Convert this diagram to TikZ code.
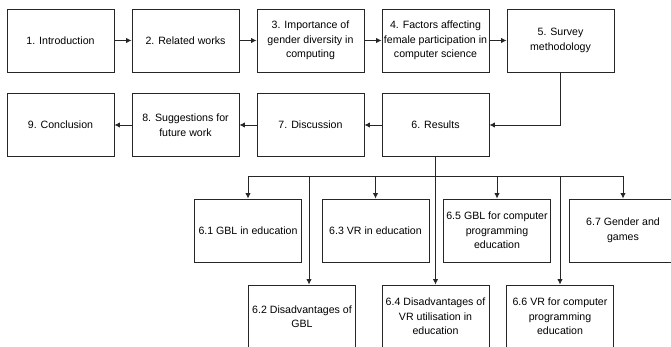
\documentclass[tikz,border=0pt]{standalone}
\usepackage{fontspec}
\setmainfont{Liberation Sans}
\usetikzlibrary{arrows.meta}
\begin{document}
\begin{tikzpicture}[x=1pt,y=-1pt,
  box/.style={draw=black!85,line width=0.9pt,minimum width=107pt,minimum height=63pt,inner sep=1pt,align=center,
    font=\fontsize{10.6}{14.5}\selectfont},
  arr/.style={draw=black!85,line width=0.9pt,-{Latex[length=5.5pt,width=5.5pt]}}]
\useasboundingbox (0,0) rectangle (671,347);
\clip (0,0) rectangle (671,347);
\fill[white] (0,0) rectangle (671,347);
% row 1
\node[box] (n1) at (60.5,40.5) {1. Introduction};
\node[box] (n2) at (185.5,40.5) {2. Related works};
\node[box] (n3) at (310.5,40.5) {3. Importance of\\gender diversity in\\computing};
\node[box] (n4) at (435.5,40.5) {4. Factors affecting\\female participation in\\computer science};
\node[box] (n5) at (560.5,40.5) {5. Survey\\methodology};
% row 2
\node[box] (n9) at (60.5,125) {9. Conclusion};
\node[box] (n8) at (185.5,125) {8. Suggestions for\\future work};
\node[box] (n7) at (310.5,125) {7. Discussion};
\node[box] (n6) at (435.5,125) {6. Results};
% row 3
\node[box] (s1) at (248,230.5) {6.1 GBL in education};
\node[box] (s3) at (375.5,230.5) {6.3 VR in education};
\node[box] (s5) at (497,230.5) {6.5 GBL for computer\\programming\\education};
\node[box] (s7) at (623,230.5) {6.7 Gender and\\games};
% row 4
\node[box] (s2) at (302,316.5) {6.2 Disadvantages of\\GBL};
\node[box] (s4) at (435.5,316.5) {6.4 Disadvantages of\\VR utilisation in\\education};
\node[box] (s6) at (560,316.5) {6.6 VR for computer\\programming\\education};
% connectors
\draw[arr] (n1) -- (n2);
\draw[arr] (n2) -- (n3);
\draw[arr] (n3) -- (n4);
\draw[arr] (n4) -- (n5);
\draw[arr] (n5.south) |- (n6.east);
\draw[arr] (n6) -- (n7);
\draw[arr] (n7) -- (n8);
\draw[arr] (n8) -- (n9);
\coordinate (bus) at (435.5,176);
\draw[arr] (n6.south) -- (bus) -| (s1.north);
\draw[arr] (n6.south) -- (bus) -| ([xshift=7pt]s2.north);
\draw[arr] (n6.south) -- (bus) -| (s3.north);
\draw[arr] (n6.south) -- (s4.north);
\draw[arr] (n6.south) -- (bus) -| (s5.north);
\draw[arr] (n6.south) -- (bus) -| (s6.north);
\draw[arr] (n6.south) -- (bus) -| (s7.north);
\end{tikzpicture}
\end{document}
